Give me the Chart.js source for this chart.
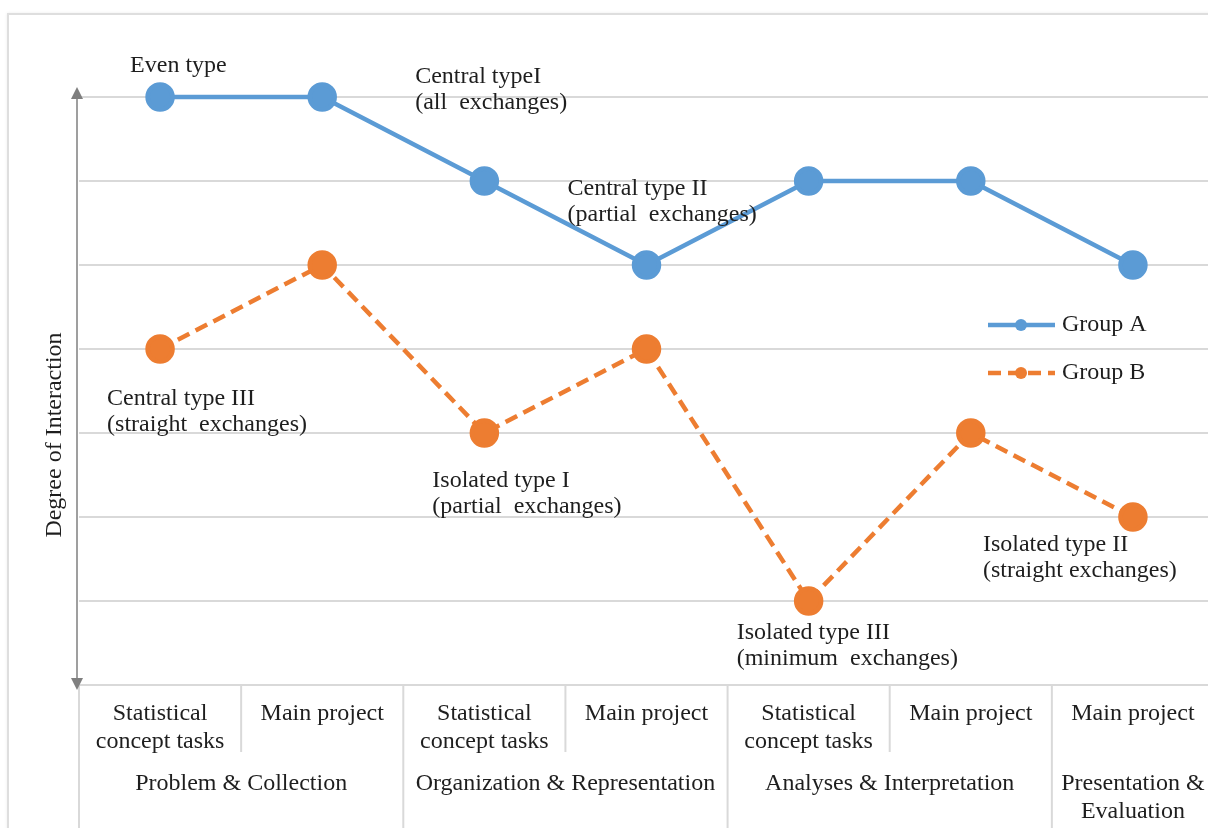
<!DOCTYPE html>
<html lang="en">
<head>
    <meta charset="UTF-8">
    <title>Degree of Interaction</title>
    <script src="https://cdn.jsdelivr.net/npm/chart.js"></script>
    <style>
        body {
            margin: 0;
            background: #ffffff;
            overflow: hidden;
        }

        .wrap {
            position: relative;
            width: 1216px;
            height: 828px;
        }

        .frame {
            position: absolute;
            left: 7px;
            top: 13px;
            width: 1400px;
            height: 1000px;
            border: 2px solid #dedede;
            box-shadow: 0 0 3px rgba(0, 0, 0, 0.08);
        }

        canvas {
            position: absolute;
            left: 0;
            top: 0;
        }
    </style>
</head>
<body>
    <div class="wrap">
        <div class="frame"></div>
        <canvas id="chart" width="1216" height="828"></canvas>
    </div>

    <script>
        const categories = [
            ['Statistical', 'concept tasks'], 'Main project',
            ['Statistical', 'concept tasks'], 'Main project',
            ['Statistical', 'concept tasks'], 'Main project',
            'Main project'
        ];
        const stages = ['Problem & Collection', 'Organization & Representation', 'Analyses & Interpretation', ['Presentation &', 'Evaluation']];
        const stageSizes = [2, 2, 2, 1];

        const groupA = [7, 7, 6, 5, 6, 6, 5];
        const groupB = [4, 5, 3, 4, 1, 3, 2];

        // notes: which series/point they hang off, plus text offset
        const notes = [
            { set: 0, i: 0, dx: -30, dy: -31, text: ['Even type'] },
            { set: 0, i: 1, dx: 93, dy: -20, text: ['Central typeI', '(all  exchanges)'] },
            { set: 0, i: 3, dx: -79, dy: -76, text: ['Central type II', '(partial  exchanges)'] },
            { set: 1, i: 0, dx: -53, dy: 50, text: ['Central type III', '(straight  exchanges)'] },
            { set: 1, i: 2, dx: -52, dy: 48, text: ['Isolated type I', '(partial  exchanges)'] },
            { set: 1, i: 4, dx: -72, dy: 32, text: ['Isolated type III', '(minimum  exchanges)'] },
            { set: 1, i: 6, dx: -150, dy: 28, text: ['Isolated type II', '(straight exchanges)'] }
        ];

        const serif = '"Liberation Serif", "Times New Roman", serif';
        const textColor = '#1e1e1e';
        const lineGray = '#d9d9d9';

        const extras = {
            id: 'extras',
            beforeDatasetsDraw(chart) {
                const { ctx, chartArea, scales } = chart;
                const x = scales.x;
                const bottom = chartArea.bottom;

                ctx.save();
                // category table under the plot
                ctx.strokeStyle = lineGray;
                ctx.lineWidth = 2;
                const step = x.getPixelForValue(1) - x.getPixelForValue(0);
                let edges = [x.getPixelForValue(0) - step / 2];
                for (let i = 0; i < categories.length - 1; i++) {
                    edges.push((x.getPixelForValue(i) + x.getPixelForValue(i + 1)) / 2);
                }
                let stageEnds = [0];
                let acc = 0;
                stageSizes.forEach(n => { acc += n; stageEnds.push(acc); });
                edges.forEach((ex, k) => {
                    const full = stageEnds.includes(k);
                    ctx.beginPath();
                    ctx.moveTo(ex, bottom);
                    ctx.lineTo(ex, full ? chart.height : bottom + 67);
                    ctx.stroke();
                });

                // stage labels
                ctx.fillStyle = textColor;
                ctx.font = '24px ' + serif;
                ctx.textAlign = 'center';
                ctx.textBaseline = 'middle';
                let start = 0;
                stages.forEach((s, k) => {
                    const end = start + stageSizes[k] - 1;
                    const cx = (x.getPixelForValue(start) + x.getPixelForValue(end)) / 2;
                    const lines = Array.isArray(s) ? s : [s];
                    lines.forEach((l, j) => ctx.fillText(l, cx, bottom + 99 + j * 28));
                    start += stageSizes[k];
                });

                // y axis arrow
                const ax = chartArea.left - 2;
                ctx.strokeStyle = '#7f7f7f';
                ctx.fillStyle = '#7f7f7f';
                ctx.lineWidth = 1.5;
                ctx.beginPath();
                ctx.moveTo(ax, chartArea.top - 2);
                ctx.lineTo(ax, bottom - 4);
                ctx.stroke();
                ctx.beginPath();
                ctx.moveTo(ax, chartArea.top - 10);
                ctx.lineTo(ax - 6, chartArea.top + 2);
                ctx.lineTo(ax + 6, chartArea.top + 2);
                ctx.fill();
                ctx.beginPath();
                ctx.moveTo(ax, bottom + 5);
                ctx.lineTo(ax - 6, bottom - 7);
                ctx.lineTo(ax + 6, bottom - 7);
                ctx.fill();

                // y title
                ctx.fillStyle = textColor;
                ctx.translate(55, 435);
                ctx.rotate(-Math.PI / 2);
                ctx.fillText('Degree of Interaction', 0, 0);
                ctx.restore();
            },
            afterDatasetsDraw(chart) {
                const { ctx } = chart;
                ctx.save();
                ctx.fillStyle = textColor;
                ctx.font = '24px ' + serif;
                ctx.textAlign = 'left';
                ctx.textBaseline = 'middle';
                notes.forEach(n => {
                    const p = chart.getDatasetMeta(n.set).data[n.i];
                    n.text.forEach((l, j) => ctx.fillText(l, p.x + n.dx, p.y + n.dy + j * 26));
                });

                // legend
                chart.data.datasets.forEach((ds, k) => {
                    const ly = 325 + k * 48;
                    ctx.strokeStyle = ds.borderColor;
                    ctx.lineWidth = ds.borderWidth;
                    ctx.setLineDash(ds.borderDash || []);
                    ctx.beginPath();
                    ctx.moveTo(988, ly);
                    ctx.lineTo(1055, ly);
                    ctx.stroke();
                    ctx.setLineDash([]);
                    ctx.fillStyle = ds.pointBackgroundColor;
                    ctx.beginPath();
                    ctx.arc(1021, ly, 6, 0, Math.PI * 2);
                    ctx.fill();
                    ctx.fillStyle = textColor;
                    ctx.fillText(ds.label, 1062, ly);
                });
                ctx.restore();
            }
        };

        new Chart(document.getElementById('chart'), {
            type: 'line',
            data: {
                labels: categories,
                datasets: [{
                    label: 'Group A',
                    data: groupA,
                    borderColor: '#5b9bd5',
                    backgroundColor: '#5b9bd5',
                    pointBackgroundColor: '#5b9bd5',
                    pointBorderColor: '#5b9bd5',
                    borderWidth: 4.5,
                    pointRadius: 12.5,
                    pointHoverRadius: 12.5,
                    clip: false
                }, {
                    label: 'Group B',
                    data: groupB,
                    borderColor: '#ed7d31',
                    backgroundColor: '#ed7d31',
                    pointBackgroundColor: '#ed7d31',
                    pointBorderColor: '#ed7d31',
                    borderWidth: 4.5,
                    borderDash: [13, 7],
                    pointRadius: 12.5,
                    pointHoverRadius: 12.5,
                    clip: false
                }]
            },
            options: {
                responsive: false,
                animation: false,
                events: [],
                layout: { autoPadding: false, padding: { top: 97, right: 2, left: 0, bottom: 0 } },
                plugins: {
                    legend: { display: false },
                    tooltip: { enabled: false }
                },
                scales: {
                    x: {
                        offset: true,
                        grid: { display: false, drawTicks: false },
                        border: { display: false },
                        ticks: {
                            autoSkip: false,
                            maxRotation: 0,
                            padding: 15,
                            color: textColor,
                            font: { family: serif, size: 24, lineHeight: 1.1667 }
                        },
                        afterFit(scale) {
                            scale.height = 143;
                            scale.paddingLeft = 0;
                            scale.paddingRight = 0;
                        }
                    },
                    y: {
                        min: 0,
                        max: 7,
                        grid: { color: lineGray, lineWidth: 2, drawTicks: false },
                        border: { display: false },
                        ticks: { display: false, stepSize: 1 },
                        afterFit(scale) { scale.width = 79; }
                    }
                }
            },
            plugins: [extras]
        });
    </script>
</body>
</html>
